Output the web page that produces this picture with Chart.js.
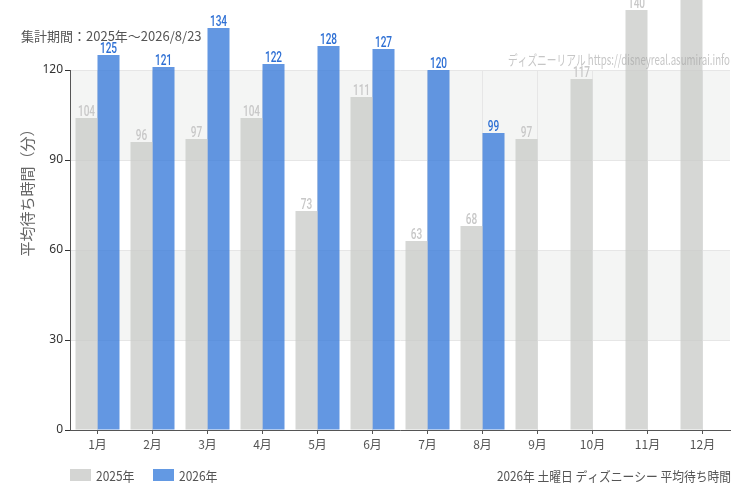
<!DOCTYPE html>
<html><head><meta charset="utf-8">
<script src="https://cdn.jsdelivr.net/npm/chart.js@4"></script>
<style>html,body{margin:0;padding:0;background:#fff}#wrap{width:750px;height:500px}</style>
</head><body><div id="wrap"><canvas id="c" width="750" height="500"></canvas></div>
<script>
const months = ['1月','2月','3月','4月','5月','6月','7月','8月','9月','10月','11月','12月'];
const wait2025 = [104,96,97,104,73,111,63,68,97,117,140,150];
const wait2026 = [125,121,134,122,128,127,120,99,null,null,null,null];
const yTicks = [0,30,60,90,120];
const seriesNames = ['2025年','2026年'];
const titleText = '集計期間：2025年～2026/8/23';
const watermarkText = 'ディズニーリアル https://disneyreal.asumirai.info';
const footerText = '2026年 土曜日 ディズニーシー 平均待ち時間';
const yTitleText = '平均待ち時間（分）';

const barColors = ['rgba(200,201,199,0.75)','rgba(55,122,218,0.78)'];
const legendColors = ['#d4d5d3','#6399e3'];
const labelColors = ['#c8c8c8','#2d6fd4'];
const JP = '"Noto Sans CJK JP","Noto Sans",sans-serif';

function drawScaled(ctx, text, x, y, align, sx, font, color, fitWidth){
  ctx.save();
  ctx.font = font;
  ctx.fillStyle = color;
  ctx.textBaseline = 'alphabetic';
  ctx.textAlign = 'left';
  const mw = ctx.measureText(text).width;
  if (fitWidth) sx = fitWidth / mw;
  const w = mw * sx;
  let left = x;
  if (align === 'center') left = x - w/2;
  else if (align === 'right') left = x - w;
  ctx.translate(left, y);
  ctx.scale(sx, 1);
  ctx.fillText(text, 0, 0);
  ctx.restore();
}

const extras = {
  id: 'extras',
  beforeDraw(chart){
    const {ctx, chartArea:a, scales:{y}} = chart;
    ctx.save();
    ctx.fillStyle = '#f4f5f4';
    [[90,120],[30,60]].forEach(([lo,hi])=>{
      const t = y.getPixelForValue(hi), b = y.getPixelForValue(lo);
      ctx.fillRect(a.left, t, a.right - a.left, b - t);
    });
    ctx.restore();
  },
  afterDatasetsDraw(chart){
    const ctx = chart.ctx;
    chart.data.datasets.forEach((ds, di)=>{
      const meta = chart.getDatasetMeta(di);
      meta.data.forEach((bar, i)=>{
        const v = ds.data[i];
        if (v === null || v === undefined) return;
        drawScaled(ctx, String(v), bar.x, bar.y - 2, 'center', 0.72, '500 14px Roboto', labelColors[di]);
      });
    });
    // watermark
    drawScaled(ctx, watermarkText, 730, 65, 'right', 1, '14px ' + JP, 'rgba(160,160,160,0.6)', 222);
  },
  afterDraw(chart){
    const ctx = chart.ctx;
    // title
    drawScaled(ctx, titleText, 21, 41, 'left', 1, '13px ' + JP, '#555');
    // y axis title
    ctx.save();
    ctx.translate(33, 189);
    ctx.rotate(-Math.PI/2);
    ctx.font = '15px ' + JP;
    ctx.fillStyle = '#666';
    ctx.textAlign = 'center';
    ctx.textBaseline = 'alphabetic';
    ctx.fillText(yTitleText, 0, 0);
    ctx.restore();
    // legend
    const lx = [70, 153];
    seriesNames.forEach((n, i)=>{
      ctx.save();
      ctx.fillStyle = legendColors[i];
      ctx.fillRect(lx[i], 469, 21, 12);
      ctx.restore();
      drawScaled(ctx, n, lx[i] + 26, 481, 'left', 0.92, '13px ' + JP, '#555');
    });
    // footer
    drawScaled(ctx, footerText, 731, 481, 'right', 1, '13px ' + JP, '#555', 234);
  }
};

new Chart(document.getElementById('c'), {
  type: 'bar',
  data: {
    labels: months,
    datasets: [
      {label: seriesNames[0], data: wait2025, backgroundColor: barColors[0], clip: false, categoryPercentage: 0.8, barPercentage: 1.0},
      {label: seriesNames[1], data: wait2026, backgroundColor: barColors[1], clip: false, categoryPercentage: 0.8, barPercentage: 1.0}
    ]
  },
  options: {
    responsive: false,
    animation: false,
    layout: {padding: {left: 0, right: 20, top: 70, bottom: 0}},
    plugins: {legend: {display: false}, tooltip: {enabled: false}, title: {display: false}},
    scales: {
      x: {
        grid: {color: '#e6e6e6', offset: false, tickLength: 4, tickColor: '#555'},
        border: {color: '#555', width: 1},
        ticks: {color: '#555', font: {family: JP, size: 12}, padding: 3},
        afterFit(s){ s.height = 70; }
      },
      y: {
        min: 0, max: 120,
        afterBuildTicks(s){ s.ticks = yTicks.map(v=>({value: v})); },
        grid: {color: '#e6e6e6', tickLength: 5, tickColor: '#333'},
        border: {color: '#555', width: 1},
        ticks: {color: '#333', font: {family: '"Noto Sans",sans-serif', size: 12}, padding: 2},
        afterFit(s){ s.width = 70; }
      }
    }
  },
  plugins: [extras]
});
</script>
</body></html>
